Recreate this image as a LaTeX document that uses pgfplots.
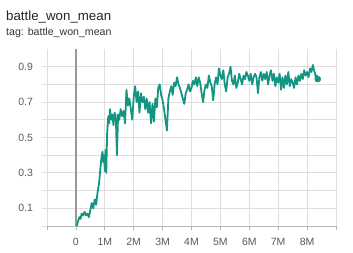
\documentclass[border=0pt]{standalone}
\usepackage{pgfplots}
\pgfplotsset{compat=1.18}
\usepackage{fontspec}
\setmainfont{Liberation Sans}
\definecolor{teal1}{RGB}{18,150,130}
\definecolor{gridc}{RGB}{222,222,222}
\definecolor{axc}{RGB}{180,180,180}
\definecolor{labc}{RGB}{90,90,90}
\begin{document}
\begin{tikzpicture}[x=1pt,y=1pt]
\useasboundingbox (0,0) rectangle (353,253);
\node[anchor=base west,font=\fontsize{13.3}{15}\selectfont,text=black!85,inner sep=0] at (6,232.5) {battle\_won\_mean};
\node[anchor=base west,font=\fontsize{10.6}{12}\selectfont,text=black!80,inner sep=0] at (6,217.5) {tag: battle\_won\_mean};
\begin{axis}[
  at={(47pt,27pt)}, anchor=south west,
  scale only axis, width=289pt, height=177pt,
  xmin=-1, xmax=9, ymin=0, ymax=1.0,
  axis x line*=bottom, axis y line*=left,
  x axis line style={draw=axc,line width=0.8pt},
  y axis line style={draw=none},
  xtick={-1,0,1,2,3,4,5,6,7,8,9},
  xticklabels={,0,1M,2M,3M,4M,5M,6M,7M,8M,},
  ytick={0,0.1,0.2,0.3,0.4,0.5,0.6,0.7,0.8,0.9},
  yticklabels={,0.1,,0.3,,0.5,,0.7,,0.9},
  grid=major,
  major grid style={draw=gridc,line width=0.8pt},
  tick align=outside, major tick length=4.5pt,
  tick style={draw=gridc,line width=0.8pt},
  xtick style={draw=axc},
  ticklabel style={font=\fontsize{10.5}{12}\selectfont,text=labc},
  /pgf/number format/assume math mode=true,
  xticklabel style={yshift=-4pt},
  yticklabel style={xshift=-6pt},
  clip=false,
]
\draw[draw=black!40,line width=1.2pt] (axis cs:0,0) -- (axis cs:0,1.0);
\addplot[teal1,line width=1.8pt,line join=round] coordinates {
(0.03,0.00)(0.08,0.03)(0.12,0.05)(0.16,0.04)(0.20,0.07)(0.25,0.06)(0.30,0.08)(0.35,0.06)(0.40,0.07)(0.45,0.05)
(0.50,0.09)(0.55,0.13)(0.60,0.10)(0.65,0.15)(0.70,0.12)(0.75,0.19)(0.80,0.24)(0.85,0.33)(0.88,0.38)(0.92,0.42)
(0.95,0.36)(0.98,0.40)(1.00,0.31)(1.03,0.43)(1.05,0.30)(1.08,0.52)(1.12,0.62)(1.15,0.58)(1.18,0.66)(1.22,0.60)
(1.26,0.63)(1.30,0.57)(1.34,0.64)(1.38,0.62)(1.42,0.40)(1.46,0.63)(1.50,0.60)(1.55,0.66)(1.60,0.62)(1.65,0.65)
(1.70,0.58)(1.75,0.77)(1.80,0.68)(1.85,0.72)(1.90,0.66)(1.95,0.60)(2.00,0.73)(2.05,0.79)(2.10,0.70)(2.15,0.76)
(2.20,0.64)(2.25,0.75)(2.30,0.70)(2.35,0.73)(2.40,0.66)(2.45,0.72)(2.50,0.64)(2.55,0.70)(2.60,0.58)(2.65,0.69)
(2.70,0.59)(2.75,0.72)(2.80,0.67)(2.85,0.78)(2.90,0.80)(2.95,0.74)(3.00,0.71)(3.05,0.66)(3.10,0.60)(3.15,0.54)
(3.20,0.72)(3.25,0.76)(3.30,0.79)(3.35,0.74)(3.40,0.81)(3.45,0.79)(3.50,0.84)(3.55,0.80)(3.60,0.78)(3.65,0.75)
(3.70,0.72)(3.75,0.69)(3.80,0.75)(3.85,0.77)(3.90,0.80)(3.95,0.76)(4.00,0.78)(4.05,0.82)(4.10,0.80)(4.15,0.84)
(4.20,0.79)(4.25,0.84)(4.30,0.81)(4.35,0.75)(4.40,0.70)(4.45,0.77)(4.50,0.80)(4.55,0.78)(4.60,0.85)(4.65,0.81)
(4.70,0.79)(4.75,0.71)(4.80,0.80)(4.85,0.84)(4.90,0.80)(4.95,0.89)(5.00,0.85)(5.05,0.83)(5.10,0.88)(5.15,0.80)
(5.20,0.76)(5.25,0.84)(5.30,0.86)(5.35,0.90)(5.40,0.82)(5.45,0.80)(5.50,0.85)(5.55,0.78)(5.60,0.81)(5.65,0.86)
(5.70,0.83)(5.75,0.80)(5.80,0.85)(5.85,0.83)(5.90,0.87)(5.95,0.85)(6.00,0.82)(6.05,0.86)(6.10,0.80)(6.15,0.84)
(6.20,0.86)(6.25,0.84)(6.30,0.75)(6.35,0.84)(6.40,0.87)(6.45,0.82)(6.50,0.86)(6.55,0.83)(6.60,0.87)(6.65,0.80)
(6.70,0.85)(6.75,0.88)(6.80,0.82)(6.85,0.86)(6.90,0.79)(6.95,0.84)(7.00,0.81)(7.05,0.86)(7.10,0.77)(7.15,0.84)
(7.20,0.78)(7.25,0.85)(7.30,0.80)(7.35,0.87)(7.40,0.79)(7.45,0.83)(7.50,0.81)(7.55,0.78)(7.60,0.84)(7.65,0.80)
(7.70,0.85)(7.75,0.82)(7.80,0.86)(7.85,0.83)(7.90,0.88)(7.95,0.85)(8.00,0.87)(8.05,0.84)(8.10,0.89)(8.15,0.87)
(8.20,0.91)(8.24,0.88)(8.28,0.86)(8.31,0.82)(8.34,0.85)(8.37,0.83)
};
\addplot[only marks,mark=*,mark size=3pt,teal1] coordinates {(8.37,0.83)};
\end{axis}
\end{tikzpicture}
\end{document}
